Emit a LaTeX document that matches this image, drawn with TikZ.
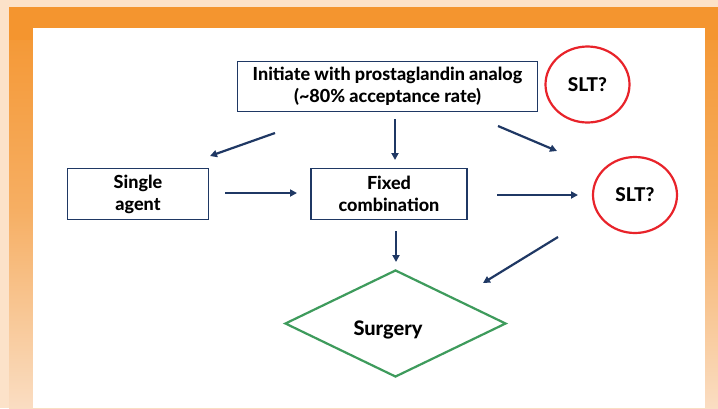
\documentclass[tikz,border=0pt]{standalone}
\usepackage{fontspec}
\setmainfont{Lato}[BoldFont={Lato Heavy}]
\usetikzlibrary{shapes.geometric,arrows.meta}
\definecolor{peach}{HTML}{FCE2C9}
\definecolor{orangetop}{HTML}{F4952F}
\definecolor{orangebot}{HTML}{FADDC2}
\definecolor{navy}{HTML}{1F3864}
\definecolor{sltred}{HTML}{E8232A}
\definecolor{surggreen}{HTML}{3E9B5C}
\tikzset{
  box/.style={draw=navy, line width=1.8pt, fill=white, inner sep=0pt, align=center, font=\bfseries\fontsize{18}{22}\selectfont},
  sltcircle/.style={ellipse, draw=sltred, line width=2.2pt, inner sep=0pt, minimum width=84pt, minimum height=76pt, font=\bfseries\fontsize{19}{22}\selectfont},
  surgbox/.style={diamond, draw=surggreen, line width=2.2pt, inner sep=0pt, minimum width=221pt, minimum height=107pt},
  flow/.style={draw=navy, line width=2.2pt, -{Triangle[length=7pt,width=7pt]}},
}
\begin{document}
\begin{tikzpicture}[x=1pt,y=-1pt]
\useasboundingbox (0,0) rectangle (718,408);
\fill[peach] (0,0) rectangle (718,408);
\shade[top color=orangetop, bottom color=orangebot, middle color=orangetop!65!orangebot] (9,7) rectangle (718,408);
\fill[orangetop] (9,7) rectangle (718,40);
\fill[white] (33,28) rectangle (705,408);

\node[box, minimum width=300pt, minimum height=50pt] (init) at (387.5,86.5) {Initiate with prostaglandin analog\\(\textasciitilde80\% acceptance rate)};
\node[sltcircle] (slt1) at (587.5,84.5) {SLT?};
\node[box, minimum width=141pt, minimum height=51pt] (single) at (138,194) {Single\\agent};
\node[box, minimum width=156pt, minimum height=51pt] (fixed) at (389,194) {Fixed\\combination};
\node[sltcircle] (slt2) at (635,195) {SLT?};
\node[surgbox] (surgery) at (395.5,323.5) {};
\node[font=\bfseries\fontsize{20}{22}\selectfont] (surgtext) at (388,330) {Surgery};

\coordinate (a1s) at (275,133); \coordinate (a1e) at (210,156);
\coordinate (a2s) at (395,119); \coordinate (a2e) at (395,160);
\coordinate (a3s) at (498,126); \coordinate (a3e) at (557,151);
\coordinate (a4s) at (225,193); \coordinate (a4e) at (297,193);
\coordinate (a5s) at (497,195); \coordinate (a5e) at (578,195);
\coordinate (a6s) at (396,231); \coordinate (a6e) at (396,262);
\coordinate (a7s) at (558,237); \coordinate (a7e) at (483,283);
\draw[flow] (a1s) -- (a1e);
\draw[flow] (a2s) -- (a2e);
\draw[flow] (a3s) -- (a3e);
\draw[flow] (a4s) -- (a4e);
\draw[flow] (a5s) -- (a5e);
\draw[flow] (a6s) -- (a6e);
\draw[flow] (a7s) -- (a7e);
\end{tikzpicture}
\end{document}
